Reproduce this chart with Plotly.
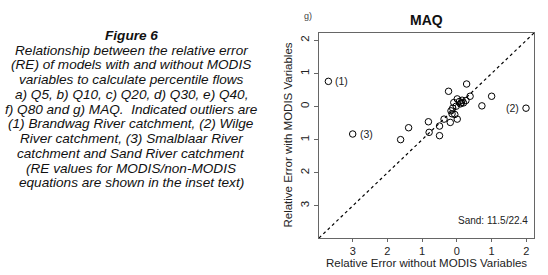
import plotly.graph_objects as go

# Relative error without MODIS variables (x) and with MODIS variables (y)
re_without_modis = [-3.70, -3.00, 1.99, -1.62, -1.39, -0.82, -0.80, -0.50, -0.50, -0.37,
                    -0.24, -0.19, -0.17, -0.12, -0.09, -0.06, -0.02, 0.01, 0.01, 0.07,
                    0.13, 0.15, 0.19, 0.28, 0.26, 0.38, 0.72, 1.00, -0.14, 0.10]
re_with_modis = [0.76, -0.83, -0.05, -1.00, -0.64, -0.46, -0.78, -0.59, -0.88, -0.38,
                 0.46, -0.48, -0.13, -0.05, 0.12, -0.24, 0.01, -0.38, 0.23, 0.15,
                 0.11, 0.19, 0.11, 0.68, 0.18, 0.31, 0.02, 0.31, -0.22, 0.08]

outlier_labels = ["(1)", "(3)", "(2)"]
outlier_index = [0, 1, 2]
outlier_side = ["right", "right", "left"]

x_tick_vals = [-3, -2, -1, 0, 1, 2]
x_tick_text = ["3", "2", "1", "0", "1", "2"]
y_tick_vals = [2, 1, 0, -1, -2, -3]
y_tick_text = ["2", "1", "0", "1", "2", "3"]
axis_range = [-3.97, 2.22]

caption_lines = [
    "<b><i>Figure 6</i></b>",
    "<i>Relationship between the relative error</i>",
    "<i>(RE) of models with and without MODIS</i>",
    "<i>variables to calculate percentile flows</i>",
    "<i>a) Q5, b) Q10, c) Q20, d) Q30, e) Q40,</i>",
    "<i>f) Q80 and g) MAQ.  Indicated outliers are</i>",
    "<i>(1) Brandwag River catchment, (2) Wilge</i>",
    "<i>River catchment, (3) Smalblaar River</i>",
    "<i>catchment and Sand River catchment</i>",
    "<i>(RE values for MODIS/non-MODIS</i>",
    "<i>equations are shown in the inset text)</i>",
]

W, H = 548, 275
L, R, T, B = 319, 534.5, 32.5, 238.5


def px(xp):
    return (xp - L) / (R - L)


def py(yp):
    return (B - yp) / (B - T)


FONT = "Liberation Sans, Arial, sans-serif"

fig = go.Figure()
fig.add_trace(go.Scatter(
    x=re_without_modis, y=re_with_modis, mode="markers",
    marker=dict(symbol="circle-open", size=6.5, color="black", line=dict(width=1, color="black")),
    showlegend=False, hoverinfo="skip"))

# 1:1 line spanning the plotting region
fig.add_shape(type="line", xref="x", yref="y",
              x0=axis_range[0], y0=axis_range[0], x1=axis_range[1], y1=axis_range[1],
              line=dict(color="black", width=1.2, dash="3px,3px"))

annotations = []
for lab, i, side in zip(outlier_labels, outlier_index, outlier_side):
    annotations.append(dict(
        x=re_without_modis[i], y=re_with_modis[i], xref="x", yref="y",
        text=lab, showarrow=False, xanchor="left" if side == "right" else "right",
        xshift=5 if side == "right" else -5,
        font=dict(family=FONT, size=10.5, color="#222")))

annotations.append(dict(x=px(530.5), y=py(221), xref="paper", yref="paper",
                        text="Sand: 11.5/22.4", showarrow=False, xanchor="right",
                        yanchor="middle", font=dict(family=FONT, size=10, color="#222")))
annotations.append(dict(x=px(427), y=py(19), xref="paper", yref="paper",
                        text="<b>MAQ</b>", showarrow=False, yanchor="middle",
                        font=dict(family=FONT, size=14, color="#111")))
annotations.append(dict(x=px(302), y=py(15), xref="paper", yref="paper",
                        text="g)", showarrow=False, yanchor="middle",
                        font=dict(family=FONT, size=9, color="#444")))
annotations.append(dict(x=px(427), y=py(263.5), xref="paper", yref="paper",
                        text="Relative Error without MODIS Variables", showarrow=False,
                        yanchor="middle", font=dict(family=FONT, size=11.5, color="#222")))
annotations.append(dict(x=px(287), y=py(135.5), xref="paper", yref="paper",
                        text="Relative Error with MODIS Variables", showarrow=False,
                        textangle=-90, xanchor="center", yanchor="middle",
                        font=dict(family=FONT, size=11.5, color="#222")))

for k, line in enumerate(caption_lines):
    annotations.append(dict(x=px(131), y=py(35 + 14.8 * k), xref="paper", yref="paper",
                            text=line, showarrow=False, xanchor="center", yanchor="middle",
                            font=dict(family=FONT, size=13.6, color="#111")))

fig.update_layout(
    width=W, height=H,
    margin=dict(l=L, r=W - R, t=T, b=H - B, pad=0, autoexpand=False),
    paper_bgcolor="white", plot_bgcolor="white",
    font=dict(family=FONT, size=11, color="#222"),
    annotations=annotations,
    xaxis=dict(range=axis_range, tickvals=x_tick_vals, ticktext=x_tick_text,
               showgrid=False, zeroline=False, showline=True, mirror=True,
               linecolor="#666", linewidth=1, ticks="outside", ticklen=3,
               tickcolor="#666", tickfont=dict(size=11, color="#222"),
               automargin=False),
    yaxis=dict(range=axis_range, tickvals=y_tick_vals, ticktext=y_tick_text,
               showgrid=False, zeroline=False, showline=True, mirror=True,
               linecolor="#666", linewidth=1, ticks="outside", ticklen=4,
               tickcolor="#666", tickangle=-90, tickfont=dict(size=11.5, color="#222"),
               automargin=False),
)

fig.write_html("out.html", config={"displayModeBar": False},
               post_script="document.body.style.margin='0px';document.body.style.padding='0px';")
